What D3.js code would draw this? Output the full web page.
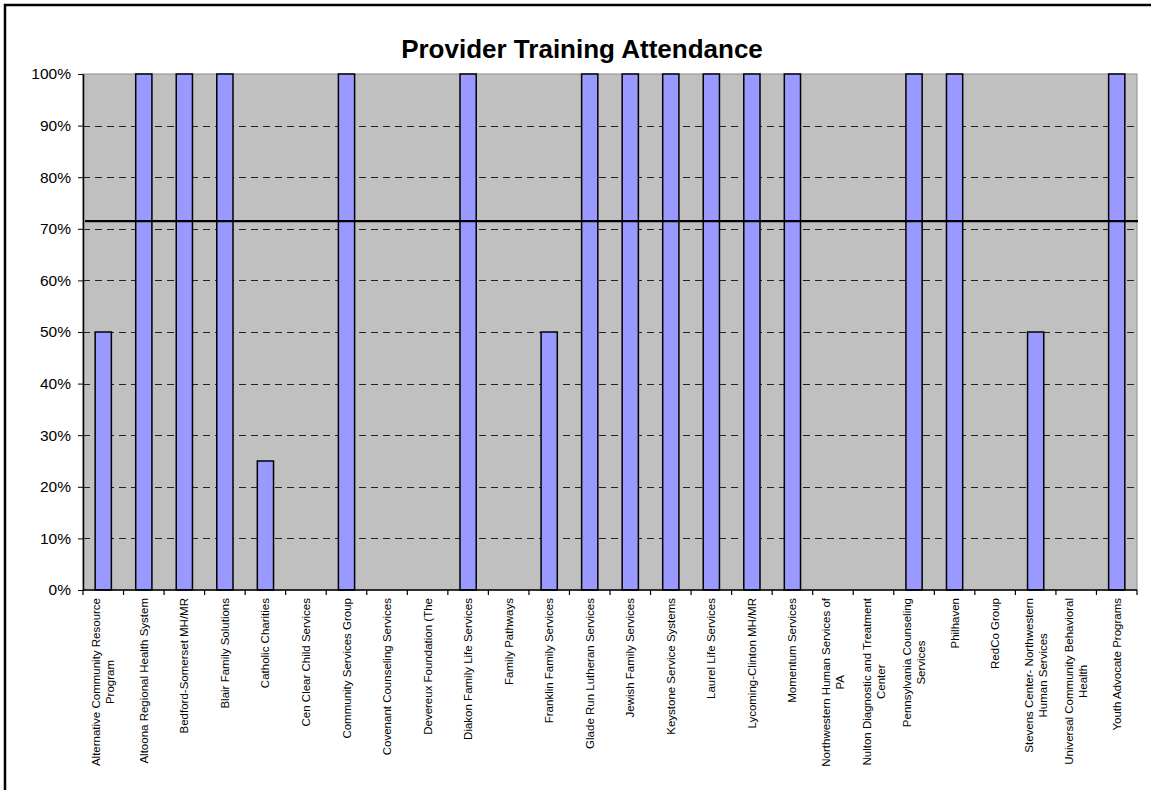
<!DOCTYPE html>
<html>
<head>
<meta charset="utf-8">
<script src="https://cdn.jsdelivr.net/npm/d3@7"></script>
<style>
  body { margin: 0; background: #fff; }
  text { font-family: Arial, "Liberation Sans", sans-serif; }
</style>
</head>
<body>
<script>
// providers (line breaks as in the original labels)
let providers = [
  "Alternative Community Resource\nProgram",
  "Altoona Regional Health System",
  "Bedford-Somerset MH/MR",
  "Blair Family Solutions",
  "Catholic Charities",
  "Cen Clear Child Services",
  "Community Services Group",
  "Covenant Counseling Services",
  "Devereux Foundation (The",
  "Diakon Family Life Services",
  "Family Pathways",
  "Franklin Family Services",
  "Glade Run Lutheran Services",
  "Jewish Family Services",
  "Keystone Service Systems",
  "Laurel Life Services",
  "Lycoming-Clinton MH/MR",
  "Momentum Services",
  "Northwestern Human Services of\nPA",
  "Nulton Diagnostic and Treatment\nCenter",
  "Pennsylvania Counseling\nServices",
  "Philhaven",
  "RedCo Group",
  "Stevens Center- Northwestern\nHuman Services",
  "Universal Community Behavioral\nHealth",
  "Youth Advocate Programs"
];

// attendance in percent
let attendance = [50, 100, 100, 100, 25, 0, 100, 0, 0, 100, 0, 50, 100, 100, 100, 100, 100, 100, 0, 0, 100, 100, 0, 50, 0, 100];

let target = 71.5;
let yTicks = [0, 10, 20, 30, 40, 50, 60, 70, 80, 90, 100];
let title = "Provider Training Attendance";

let width = 1151, height = 790;
let plot = {left: 83, right: 1137, top: 74, bottom: 590};

let svg = d3.select("body")
            .append("svg")
              .attr("width", width)
              .attr("height", height);

// outer chart frame (runs off the page at right and bottom)
svg.append("rect")
    .attr("x", 5)
    .attr("y", 5)
    .attr("width", 1170)
    .attr("height", 800)
    .attr("fill", "white")
    .attr("stroke", "black")
    .attr("stroke-width", 2.5);

let x = d3.scaleBand()
          .domain(d3.range(providers.length))
          .range([plot.left, plot.right]);

let y = d3.scaleLinear()
          .domain([0, 100])
          .range([plot.bottom, plot.top]);

// plot area
svg.append("rect")
    .attr("x", plot.left)
    .attr("y", plot.top)
    .attr("width", plot.right - plot.left)
    .attr("height", plot.bottom - plot.top)
    .attr("fill", "#c0c0c0")
    .attr("stroke", "#8c8c8c")
    .attr("stroke-width", 1);

// dashed gridlines
svg.selectAll(".grid")
    .data(yTicks.filter(d => d > 0 && d < 100))
    .enter()
    .append("line")
      .attr("class", "grid")
      .attr("x1", plot.left)
      .attr("x2", plot.right)
      .attr("y1", d => Math.round(y(d)) + 0.5)
      .attr("y2", d => Math.round(y(d)) + 0.5)
      .attr("stroke", "#222")
      .attr("stroke-width", 1)
      .attr("stroke-dasharray", "7,5");

// bars
let barW = x.bandwidth() * 0.4;
svg.selectAll(".bar")
    .data(attendance)
    .enter()
    .append("rect")
      .attr("class", "bar")
      .attr("x", (d, i) => x(i) + (x.bandwidth() - barW) / 2)
      .attr("y", d => y(d))
      .attr("width", barW)
      .attr("height", d => y(0) - y(d))
      .attr("fill", "#9999ff")
      .attr("stroke", "black")
      .attr("stroke-width", 1.5)
      .style("display", d => d > 0 ? null : "none");

// target line
svg.append("line")
    .attr("x1", plot.left + 2)
    .attr("x2", plot.right + 1)
    .attr("y1", y(target))
    .attr("y2", y(target))
    .attr("stroke", "black")
    .attr("stroke-width", 2.2);

// y axis
let yAxis = d3.axisLeft(y)
              .tickValues(yTicks)
              .tickFormat(d => d + "%")
              .tickSizeInner(5)
              .tickSizeOuter(0)
              .tickPadding(7);

let gy = svg.append("g")
            .attr("transform", "translate(" + plot.left + ",0)")
            .call(yAxis);
gy.select(".domain").attr("stroke-width", 1.5);
gy.selectAll("text")
    .attr("font-size", 15.5)
    .attr("fill", "black")
    .style("font-family", "Arial, 'Liberation Sans', sans-serif");

// x axis: ticks between categories
let bounds = d3.range(providers.length + 1).map(i => plot.left + i * x.step());
svg.append("line")
    .attr("x1", plot.left)
    .attr("x2", plot.right)
    .attr("y1", plot.bottom)
    .attr("y2", plot.bottom)
    .attr("stroke", "black")
    .attr("stroke-width", 1.5);
svg.selectAll(".xtick")
    .data(bounds)
    .enter()
    .append("line")
      .attr("class", "xtick")
      .attr("x1", d => d)
      .attr("x2", d => d)
      .attr("y1", plot.bottom)
      .attr("y2", plot.bottom + 5)
      .attr("stroke", "black")
      .attr("stroke-width", 1.2);

// category labels, rotated, lines centred on each other
let labelTop = plot.bottom + 8;
let lineGap = 14;
let labels = svg.selectAll(".xlabel")
    .data(providers)
    .enter()
    .append("g")
      .attr("class", "xlabel");

labels.each(function(name, i) {
  let g = d3.select(this);
  let lines = name.split("\n");
  let texts = lines.map(function(l, j) {
    return g.append("text")
            .attr("font-size", 11.5)
            .attr("text-anchor", "middle")
            .attr("fill", "black")
            .text(l);
  });
  let maxLen = d3.max(texts, t => t.node().getComputedTextLength());
  let cx = x(i) + x.bandwidth() / 2;
  let cy = labelTop + maxLen / 2;
  texts.forEach(function(t, j) {
    let off = (j - (lines.length - 1) / 2) * lineGap;
    t.attr("transform", "translate(" + (cx + off + 4) + "," + cy + ") rotate(-90)");
  });
});

// title
svg.append("text")
    .attr("x", 582)
    .attr("y", 58)
    .attr("text-anchor", "middle")
    .attr("font-size", 26)
    .attr("font-weight", "bold")
    .attr("fill", "black")
    .text(title);
</script>
</body>
</html>
